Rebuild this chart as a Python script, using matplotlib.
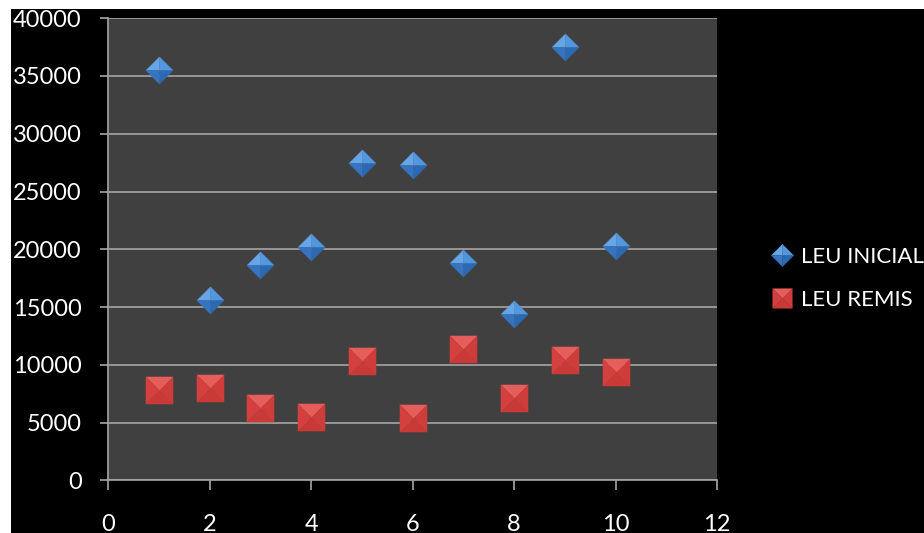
import numpy as np
import matplotlib

matplotlib.use("Agg")
import matplotlib.pyplot as plt
from matplotlib.lines import Line2D
from matplotlib.patches import Rectangle

plt.rcParams["font.family"] = ["Lato", "DejaVu Sans"]

# data
x_vals = [1, 2, 3, 4, 5, 6, 7, 8, 9, 10]
leu_inicial = [35500, 15600, 18600, 20200, 27500, 27300, 18800, 14400, 37500, 20300]
leu_remis = [7800, 8000, 6300, 5500, 10300, 5400, 11400, 7100, 10400, 9400]
x_ticks = [0, 2, 4, 6, 8, 10, 12]
y_ticks = [0, 5000, 10000, 15000, 20000, 25000, 30000, 35000, 40000]
series_names = ["LEU INICIAL", "LEU REMIS"]

BG = "#000000"
PLOT_BG = "#404040"
GRID = "#a6a6a6"
TXT = "#ffffff"

# bevelled markers: one triangle per facet, each its own colour
DIAMOND_FACETS = [
    ([(-1, 0), (0, 1), (0, 0)], "#66a6e6"),   # upper left
    ([(0, 1), (1, 0), (0, 0)], "#5397de"),    # upper right
    ([(1, 0), (0, -1), (0, 0)], "#2d69b2"),   # lower right
    ([(0, -1), (-1, 0), (0, 0)], "#3674bf"),  # lower left
]
SQUARE_FACETS = [
    ([(-1, 1), (1, 1), (0, 0)], "#e65e5b"),     # top
    ([(1, 1), (1, -1), (0, 0)], "#cf3d3a"),     # right
    ([(1, -1), (-1, -1), (0, 0)], "#c93a37"),   # bottom
    ([(-1, -1), (-1, 1), (0, 0)], "#d3403d"),   # left
]


def bevel(ax, x, y, facets, ms):
    for verts, col in facets:
        ax.plot(x, y, linestyle="none", marker=verts, markersize=ms,
                markerfacecolor=col, markeredgecolor=col,
                markeredgewidth=0.3, zorder=3)


def bevel_handle(facets, ms):
    return tuple(
        Line2D([], [], linestyle="none", marker=verts, markersize=ms,
               markerfacecolor=col, markeredgecolor=col, markeredgewidth=0.3)
        for verts, col in facets
    )


fig = plt.figure(figsize=(9.24, 5.33), dpi=100, facecolor=BG)
ax = fig.add_axes([0.117, 0.0985, 0.659, 0.8675])
ax.set_facecolor(PLOT_BG)

bevel(ax, x_vals, leu_inicial, DIAMOND_FACETS, 19.5)
bevel(ax, x_vals, leu_remis, SQUARE_FACETS, 19.5)

ax.set_xlim(0, 12)
ax.set_ylim(0, 40000)
ax.set_xticks(x_ticks)
ax.set_yticks(y_ticks)
ax.grid(True, axis="y", color=GRID, linewidth=1.2)
ax.set_axisbelow(True)

for side in ["top", "right"]:
    ax.spines[side].set_visible(False)
for side in ["left", "bottom"]:
    ax.spines[side].set_color(GRID)
    ax.spines[side].set_linewidth(1.2)

ax.tick_params(axis="x", colors=GRID, labelcolor=TXT, labelsize=17,
               length=7, width=1.2, pad=17, direction="out")
ax.tick_params(axis="y", colors=GRID, labelcolor=TXT, labelsize=17,
               length=6, width=1.2, pad=13, direction="out")

handles = [bevel_handle(DIAMOND_FACETS, 16), bevel_handle(SQUARE_FACETS, 14)]
leg = fig.legend(
    handles, series_names,
    loc="center left", bbox_to_anchor=(0.834, 0.478),
    frameon=False, fontsize=16, labelcolor=TXT,
    handlelength=1.0, handletextpad=0.35, labelspacing=1.05,
    borderpad=0, borderaxespad=0,
)

# screenshot crop: thin white strips on top and left
fig.patches.append(Rectangle((0, 1 - 9 / 533), 1, 9 / 533, transform=fig.transFigure,
                             facecolor="white", edgecolor="none", zorder=10))
fig.patches.append(Rectangle((0, 0), 11 / 924, 1, transform=fig.transFigure,
                             facecolor="white", edgecolor="none", zorder=10))

fig.savefig("out.png", dpi=100, facecolor=BG)
plt.close(fig)
